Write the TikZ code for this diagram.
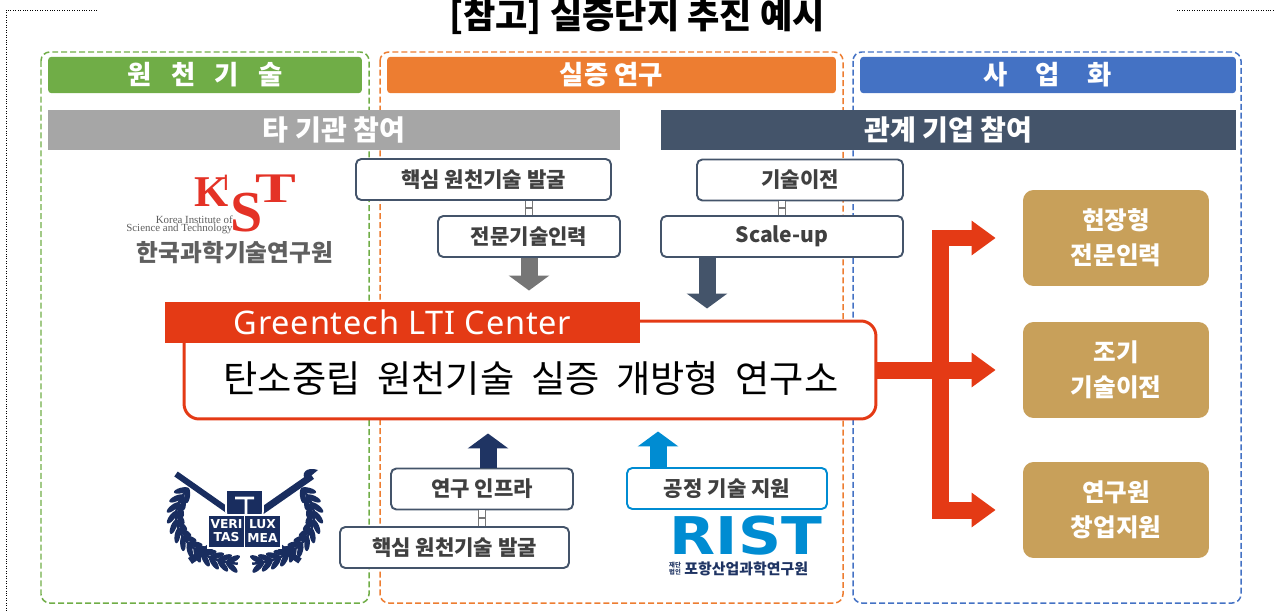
\documentclass[tikz,border=0pt]{standalone}
\usepackage{fontspec}
\setmainfont{Noto Sans CJK KR}
\newfontfamily\widekr{Noto Sans CJK KR}[WordSpace=2.0]
\newfontfamily\latinsans{Noto Sans}[LetterSpace=2.5]
\newfontfamily\latinserif{Liberation Serif}
\newfontfamily\heavysans{DejaVu Sans}
\usetikzlibrary{arrows.meta,decorations.markings}

\definecolor{grnc}{RGB}{112,173,71}
\definecolor{orgc}{RGB}{237,125,49}
\definecolor{bluc}{RGB}{68,114,196}
\definecolor{barg}{RGB}{166,166,166}
\definecolor{slate}{RGB}{68,84,106}
\definecolor{labred}{RGB}{228,58,21}
\definecolor{gold}{RGB}{200,160,90}
\definecolor{navy}{RGB}{31,52,99}
\definecolor{skyb}{RGB}{0,140,210}
\definecolor{txtg}{RGB}{64,64,64}
\definecolor{logog}{RGB}{95,95,95}
\definecolor{linkg}{RGB}{120,120,120}
\definecolor{arrg}{RGB}{118,118,118}
\definecolor{kistred}{RGB}{228,50,38}
\definecolor{snu}{RGB}{25,45,95}

\tikzset{
  frame/.style={dash pattern=on 3.4pt off 1.7pt, line width=0.85pt, rounded corners=5pt},
  head/.style={rounded corners=2pt, minimum height=0.72cm, text=white, font=\fontsize{15}{15}\selectfont\bfseries},
  bar/.style={minimum height=0.8cm, text=white, font=\fontsize{16}{16}\selectfont\bfseries},
  wbox/.style={draw=slate, line width=1.1pt, fill=white, rounded corners=3pt, minimum height=0.82cm, text=txtg, font=\fontsize{12}{12}\selectfont\bfseries},
  goldbox/.style={fill=gold, rounded corners=6pt, minimum width=3.72cm, minimum height=1.92cm, text=white, align=center, font=\fontsize{14}{20}\selectfont\bfseries},
  logo/.style={anchor=base, inner sep=0pt, text=kistred},
  fat/.style={line width=0.34cm, -{Triangle[width=0.8cm,length=0.3cm]}},
  redfat/.style={draw=labred, line width=0.34cm, -{Triangle[width=0.66cm,length=0.48cm]}, shorten >=0.54cm},
  chainlink/.style={draw=linkg, line width=0.7pt, double=white, double distance=3pt, postaction={decorate},
    decoration={markings, mark=at position 0.5 with {\draw[linkg, line width=0.9pt] (0,-2.4pt) -- (0,2.4pt);}}},
  leaves/.style={postaction={decorate}, decoration={markings, mark=between positions 0.03 and 0.99 step 0.075 with {
    \fill[snu] (1.5pt,2.2pt) ellipse [x radius=4.4pt, y radius=1.6pt, rotate=35];
    \fill[snu] (1.5pt,-2.2pt) ellipse [x radius=4.4pt, y radius=1.6pt, rotate=-35];}}}
}

\begin{document}
\begin{tikzpicture}[x=0.02cm, y=-0.02cm]
\useasboundingbox (0,0) rectangle (1274,611);
\draw[densely dotted, line width=0.4pt] (97,10) -- (6,10) -- (6,611);
\draw[densely dotted, line width=0.4pt] (1177,10) -- (1274,10);
\node[inner sep=0pt, font=\fontsize{20}{20}\selectfont\bfseries] (title) at (637,17) {[참고] 실증단지 추진 예시};

\draw[frame, grnc] (41,52) rectangle (369,603);
\draw[frame, orgc] (380,52) rectangle (843,603);
\draw[frame, bluc] (853,52) rectangle (1241,603);

\node[head, fill=grnc, minimum width=6.28cm] (srchead) at (205,75) {원\hspace{0.73em}천\hspace{0.73em}기\hspace{0.73em}술};
\node[head, fill=orgc, minimum width=8.98cm] (demohead) at (611.5,75) {실증 연구};
\node[head, fill=bluc, minimum width=7.52cm] (bizhead) at (1048,75) {사\hspace{1.05em}업\hspace{1.05em}화};
\node[bar, fill=barg, minimum width=11.44cm] (otherinst) at (334,130) {타 기관 참여};
\node[bar, fill=slate, minimum width=11.5cm] (partners) at (948.5,130) {관계 기업 참여};

% KIST
\node[logo, font=\latinserif\bfseries\fontsize{25}{25}\selectfont] (kistK) at (212,207) {K};
\node[logo, font=\heavysans\fontsize{12}{12}\selectfont] (kistI) at (226,191) {I};
\node[logo, font=\latinserif\bfseries\fontsize{33}{33}\selectfont] (kistS) at (247,232) {S};
\node[logo, font=\latinserif\bfseries\fontsize{24}{24}\selectfont] (kistT) at (276,203) {\scalebox{1.45}[1]{T}};
\node[anchor=east, align=right, inner sep=0pt, text=logog, font=\latinserif\fontsize{6.2}{4.8}\selectfont] (kisteng) at (233,225) {Korea Institute of\\Science and Technology};
\node[text=logog, font=\fontsize{13.5}{13.5}\selectfont\bfseries] (kistkr) at (235,252.5) {한국과학기술연구원};

% SNU
\draw[snu, line width=1.4pt, leaves] ([shift={(145:1.38cm and 0.96cm)}]245,516) arc[start angle=145, end angle=264, x radius=1.38cm, y radius=0.96cm];
\draw[snu, line width=1.4pt, leaves] ([shift={(35:1.38cm and 0.96cm)}]245,516) arc[start angle=35, end angle=-84, x radius=1.38cm, y radius=0.96cm];
\draw[snu, line width=0.12cm] (176,474) -- (300,561);
\draw[snu, line width=0.14cm] (312,476) -- (190,561);
\fill[snu] (318,470) .. controls (306,466) and (300,474) .. (306,480) -- cycle;
\fill[snu, draw=white, line width=1pt] (226,490) -- (263,490) -- (263,511) .. controls (263,522) and (251,526) .. (244.5,529) .. controls (238,526) and (226,522) .. (226,511) -- cycle;
\draw[white, line width=1.5pt] (235,498) -- (254,498) (246,498) -- (246,515) -- (237,519);
\fill[snu, draw=white, line width=0.8pt] (208,515) rectangle (281,548);
\draw[white, line width=0.8pt] (244.5,515) -- (244.5,548);
\node[text=white, align=center, inner sep=0pt, font=\heavysans\bfseries\fontsize{7}{7.5}\selectfont] (snuL) at (226.5,531) {VERI\\TAS};
\node[text=white, align=center, inner sep=0pt, font=\heavysans\bfseries\fontsize{7}{7.5}\selectfont] (snuR) at (262.5,531) {LUX\\MEA};

% RIST
\node[logo, text=skyb, font=\heavysans\bfseries\fontsize{29.6}{30}\selectfont] (ristword) at (746,554) {\scalebox{1.15}[1]{RIST}};
\node[text=navy, align=center, inner sep=0pt, font=\fontsize{3.6}{3.9}\selectfont\bfseries] (ristlaw) at (675,569) {재단\\법인};
\node[anchor=west, text=navy, inner sep=0pt, font=\fontsize{8.5}{8.5}\selectfont\bfseries] (ristkr) at (684,569) {포항산업과학연구원};

\node[wbox, minimum width=5.1cm] (coretop) at (483.5,179.5) {핵심 원천기술 발굴};
\node[wbox, minimum width=3.64cm] (experts) at (529,236.5) {전문기술인력};
\node[wbox, minimum width=4.12cm] (transfer) at (800,180) {기술이전};
\node[wbox, minimum width=4.84cm] (scaleup) at (782,236.5) {Scale-up};
\node[wbox, minimum width=3.64cm] (infra) at (482,489) {연구 인프라};
\node[wbox, minimum width=4.58cm] (corebot) at (454.5,547.5) {핵심 원천기술 발굴};
\node[wbox, draw=skyb, minimum width=4cm] (process) at (727,488.5) {공정 기술 지원};

\draw[chainlink] (experts.north) -- (experts.north |- coretop.south);
\draw[chainlink] (scaleup.north) -- (scaleup.north |- transfer.south);
\draw[chainlink] (infra.south) -- (infra.south |- corebot.north);

\node[draw=labred, line width=1.7pt, fill=white, rounded corners=0.3cm, minimum width=13.84cm, minimum height=1.96cm] (lab) at (530,370) {};
\node[fill=labred, text=white, minimum width=9.5cm, minimum height=0.82cm, font=\latinsans\fontsize{18.5}{18.5}\selectfont] (gtlc) at (402.5,322.5) {Greentech LTI Center};
\node[font=\widekr\fontsize{21.2}{21.2}\selectfont] (labname) at (531,378) {탄소중립 원천기술 실증 개방형 연구소};

\draw[fat, draw=arrg, shorten >=0.58cm] (experts.south) -- (experts.south |- lab.north);
\draw[fat, draw=slate, shorten >=0.22cm] ([xshift=-1.5cm]scaleup.south) -- ([xshift=-1.5cm]scaleup.south |- lab.north);
\draw[fat, draw=navy, shorten >=0.26cm] ([xshift=0.12cm]infra.north) -- ([xshift=0.12cm]infra.north |- lab.south);
\draw[fat, draw=skyb, shorten >=0.22cm] ([xshift=-1.38cm]process.north) -- ([xshift=-1.38cm]process.north |- lab.south);

\node[goldbox] (job1) at (1116,238) {현장형\\전문인력};
\node[goldbox] (job2) at (1116,370) {조기\\기술이전};
\node[goldbox] (job3) at (1116,510) {연구원\\창업지원};

\coordinate (fork) at (940,370);
\draw[redfat] (fork |- job3.west) |- (job1.west);
\draw[redfat] (fork |- job1.west) |- (job3.west);
\draw[redfat] (lab.east) -- (job2.west);
\end{tikzpicture}
\end{document}
